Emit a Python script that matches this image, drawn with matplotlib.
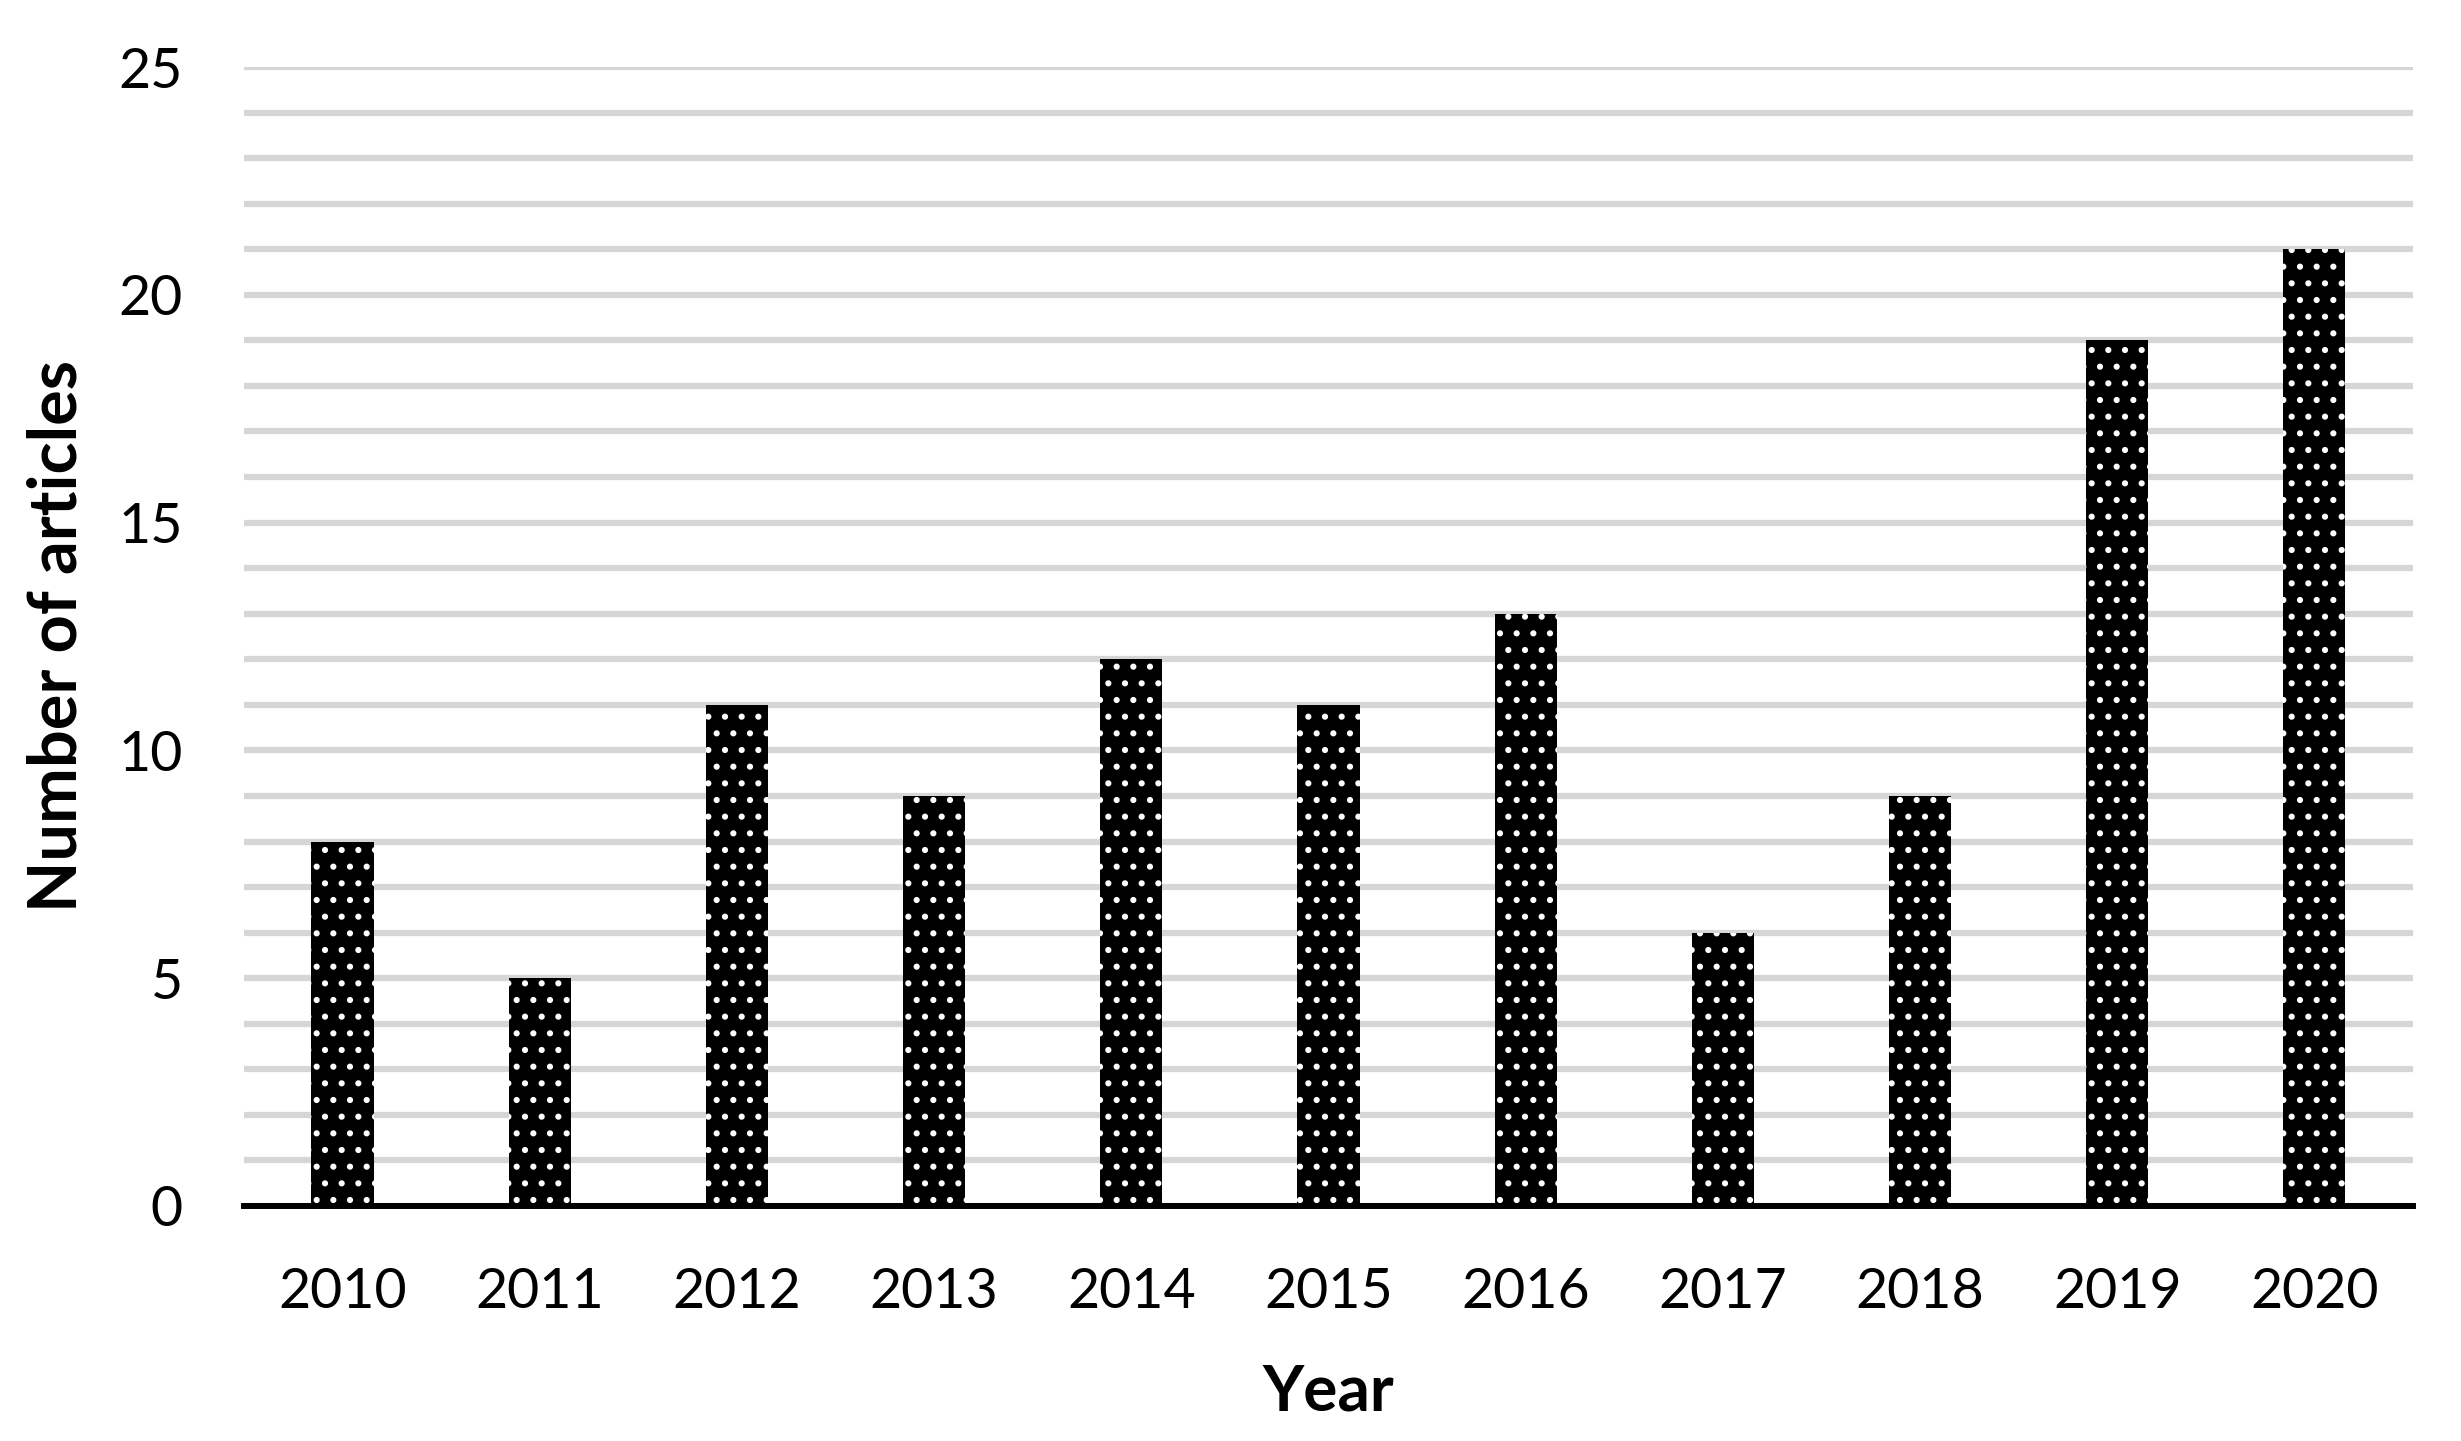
import matplotlib
matplotlib.use("Agg")
import matplotlib.pyplot as plt

# data
years = ["2010", "2011", "2012", "2013", "2014", "2015",
         "2016", "2017", "2018", "2019", "2020"]
articles = [8, 5, 11, 9, 12, 11, 13, 6, 9, 19, 21]
y_ticks = [0, 5, 10, 15, 20, 25]

plt.rcParams['font.family'] = ['Lato', 'DejaVu Sans']
plt.rcParams['hatch.linewidth'] = 2.0

fig = plt.figure(figsize=(24.61, 14.41), dpi=100)
ax = fig.add_axes([0.0991, 0.1631, 0.8814, 0.7904])

x = range(len(years))
ax.bar(x, articles, width=0.315, color='black', edgecolor='white',
       linewidth=0, hatch='.')

ax.set_xlim(-0.5, len(years) - 0.5)
ax.set_ylim(0, 25)

# minor grid every article, labels every 5
ax.set_yticks(range(0, 26), minor=True)
ax.set_yticks(y_ticks)
ax.grid(axis='y', which='both', color='#d6d6d6', linewidth=4.5)
ax.set_axisbelow(True)

ax.set_xticks(list(x))
ax.set_xticklabels(years)
ax.tick_params(axis='both', which='both', length=0, labelsize=40, pad=44)

for s in ['top', 'right', 'left']:
    ax.spines[s].set_visible(False)
ax.spines['bottom'].set_linewidth(4.3)
ax.spines['bottom'].set_zorder(5)

ax.set_xlabel('Year', fontsize=46, fontweight='bold', va='center')
ax.xaxis.set_label_coords(0.5, -0.163)
ax.set_ylabel('Number of articles', fontsize=48, fontweight='bold', va='center')
ax.yaxis.set_label_coords(-0.0858, 0.5)

fig.savefig('out.png', dpi=100)
